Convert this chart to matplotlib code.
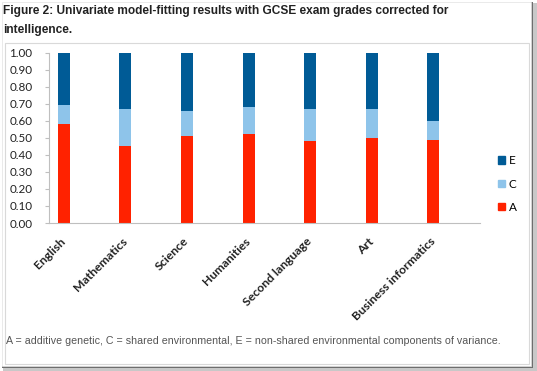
import matplotlib
matplotlib.use("Agg")
import matplotlib.pyplot as plt
from matplotlib.patches import Rectangle, Patch
import numpy as np

categories = ["English", "Mathematics", "Science", "Humanities",
              "Second language", "Art", "Business informatics"]
A_vals = [0.58, 0.45, 0.51, 0.52, 0.48, 0.50, 0.49]
C_vals = [0.11, 0.22, 0.15, 0.16, 0.19, 0.17, 0.11]
E_vals = [0.31, 0.33, 0.34, 0.32, 0.33, 0.33, 0.40]
y_ticks = [0.0, 0.1, 0.2, 0.3, 0.4, 0.5, 0.6, 0.7, 0.8, 0.9, 1.0]

col_A = "#ff2200"
col_C = "#8ec4ea"
col_E = "#005b96"

W, H = 537, 371
fig = plt.figure(figsize=(W / 100, H / 100), dpi=100)
fig.patch.set_facecolor("white")

def frect(x0, y0, w, h, **kw):
    fig.add_artist(Rectangle((x0 / W, 1 - (y0 + h) / H), w / W, h / H,
                             transform=fig.transFigure, **kw))

# screenshot shadow
frect(533, 3, 4, 368, facecolor="#c8c8c8", edgecolor="none")
frect(3, 367, 534, 4, facecolor="#c8c8c8", edgecolor="none")
frect(531, 2, 2, 366, facecolor="#6e6e6e", edgecolor="none")
frect(2, 366, 531, 1.5, facecolor="#6e6e6e", edgecolor="none")
frect(2, 2, 529, 364, facecolor="none", edgecolor="#e6e6e6", linewidth=0.6)

# chart area box
frect(5, 43, 524, 321, facecolor="none", edgecolor="#d9d9d9", linewidth=0.8)

ax = fig.add_axes([49 / W, 1 - 223 / H, 431 / W, (223 - 52.7) / H])
x = np.arange(len(categories))
bw = 0.195
ax.bar(x, A_vals, bw, color=col_A, label="A", edgecolor="none")
ax.bar(x, C_vals, bw, bottom=A_vals, color=col_C, label="C", edgecolor="none")
bottomE = [a + c for a, c in zip(A_vals, C_vals)]
ax.bar(x, E_vals, bw, bottom=bottomE, color=col_E, label="E", edgecolor="none")

ax.set_xlim(-0.239, 6.758)
ax.set_ylim(0, 1.0)
ax.set_yticks(y_ticks)
ax.set_yticklabels([f"{v:.2f}" for v in y_ticks], fontsize=8.4, family="Lato", color="#222222")
ax.set_xticks(x)
ax.set_xticklabels(categories, rotation=45, ha="right", va="center", rotation_mode="anchor",
                   fontsize=8.8, family="Lato", fontweight="bold", color="#222222")
ax.tick_params(axis="x", length=0, pad=12)
ax.tick_params(axis="y", length=3, color="#bfbfbf", pad=9)
for s in ["top", "right"]:
    ax.spines[s].set_visible(False)
ax.spines["left"].set_color("#bfbfbf")
ax.spines["bottom"].set_color("#bfbfbf")
ax.spines["left"].set_linewidth(0.8)
ax.spines["bottom"].set_linewidth(0.8)

handles = [Patch(color=col_E, label="E"), Patch(color=col_C, label="C"), Patch(color=col_A, label="A")]
fig.legend(handles=handles, loc="center left", bbox_to_anchor=(487 / W, 1 - 184 / H),
           frameon=False, prop={"family": "Lato", "size": 8.5},
           handlelength=0.6, handleheight=0.6, handletextpad=0.35, labelspacing=1.05)

fig.text(3 / W, 1 - 11 / H, "Figure 2: Univariate model-fitting results with GCSE exam grades corrected for",
         fontsize=8.6, fontweight="bold", family="Liberation Sans", color="#222222", va="center")
fig.text(3 / W, 1 - 30 / H, "intelligence.",
         fontsize=8.6, fontweight="bold", family="Liberation Sans", color="#222222", va="center")
fig.text(6 / W, 1 - 341 / H,
         "A = additive genetic, C = shared environmental, E = non-shared environmental components of variance.",
         fontsize=7.7, family="Liberation Sans", color="#555555", va="center")

fig.savefig("out.png", dpi=100)
